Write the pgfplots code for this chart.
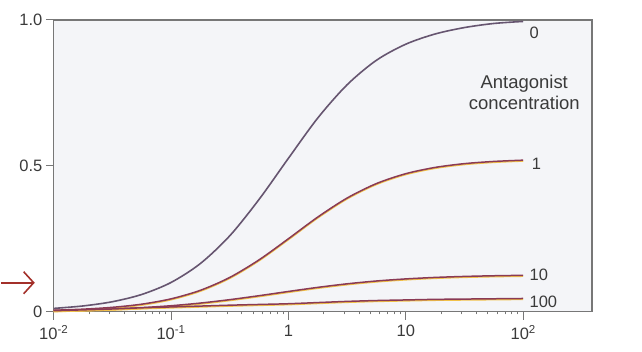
\documentclass[border=0pt]{standalone}
\usepackage{pgfplots}
\pgfplotsset{compat=1.18}
\usepackage{fontspec}
\setmainfont{Liberation Sans}
\usetikzlibrary{arrows.meta}
\definecolor{bgc}{HTML}{F4F5F8}
\definecolor{axc}{HTML}{777777}
\definecolor{txt}{HTML}{3A3A3A}
\definecolor{c0}{HTML}{665570}
\definecolor{cr}{HTML}{8A3A55}
\definecolor{cy}{HTML}{F2C24A}
\definecolor{arr}{HTML}{A3302A}
\begin{document}
\begin{tikzpicture}
\begin{axis}[
  width=539pt, height=292pt, scale only axis,
  xmode=log, xmin=0.01, xmax=386, ymin=0, ymax=1,
  axis background/.style={fill=bgc},
  axis line style={axc, line width=1.3pt},
  xtick={0.01,0.1,1,10,100},
  xticklabels={10\textsuperscript{-2},10\textsuperscript{-1},1,10,10\textsuperscript{2}},
  ytick={0,0.5,1},
  yticklabels={0,0.5,1.0},
  minor xtick={}, minor ytick={},
  xtick pos=bottom, ytick pos=left,
  tick align=outside,
  major tick length=8pt,
  tick style={axc, line width=1pt},
  tick label style={font=\fontsize{16.5}{18}\selectfont, text=txt},
  xticklabel style={yshift=-2pt},
  clip=false,
]
% curve 0
\addplot[c0, line width=1.6pt, smooth] coordinates {
(0.01,0.011) (0.01778,0.0194) (0.03162,0.0339) (0.05623,0.0588) (0.1,0.1)
(0.1778,0.165) (0.3162,0.260) (0.5623,0.385) (1,0.526) (1.778,0.664)
(3.162,0.778) (5.623,0.862) (10,0.917) (17.78,0.952) (31.62,0.974)
(56.23,0.988) (100,0.995)};
% curve 1
\addplot[cy, line width=1.7pt, smooth, yshift=-0.8pt] coordinates {
(0.01,0.0047) (0.01778,0.0084) (0.03162,0.0147) (0.05623,0.0255) (0.1,0.0438)
(0.1778,0.0731) (0.3162,0.1172) (0.5623,0.1776) (1,0.25) (1.778,0.3243)
(3.162,0.3895) (5.623,0.4391) (10,0.473) (17.78,0.4944) (31.62,0.5074)
(56.23,0.5149) (100,0.5193)};
\addplot[cr, line width=1.5pt, smooth] coordinates {
(0.01,0.0047) (0.01778,0.0084) (0.03162,0.0147) (0.05623,0.0255) (0.1,0.0438)
(0.1778,0.0731) (0.3162,0.1172) (0.5623,0.1776) (1,0.25) (1.778,0.3243)
(3.162,0.3895) (5.623,0.4391) (10,0.473) (17.78,0.4944) (31.62,0.5074)
(56.23,0.5149) (100,0.5193)};
% curve 10
\addplot[cy, line width=1.7pt, smooth, yshift=-0.8pt] coordinates {
(0.01,0.0037) (0.01778,0.0058) (0.03162,0.0089) (0.05623,0.0136) (0.1,0.0202)
(0.1778,0.0293) (0.3162,0.0410) (0.5623,0.0546) (1,0.0691) (1.778,0.0831)
(3.162,0.0953) (5.623,0.1050) (10,0.1121) (17.78,0.1172) (31.62,0.1206)
(56.23,0.1229) (100,0.1244)};
\addplot[cr, line width=1.5pt, smooth] coordinates {
(0.01,0.0037) (0.01778,0.0058) (0.03162,0.0089) (0.05623,0.0136) (0.1,0.0202)
(0.1778,0.0293) (0.3162,0.0410) (0.5623,0.0546) (1,0.0691) (1.778,0.0831)
(3.162,0.0953) (5.623,0.1050) (10,0.1121) (17.78,0.1172) (31.62,0.1206)
(56.23,0.1229) (100,0.1244)};
% curve 100
\addplot[cy, line width=1.7pt, smooth, yshift=-0.8pt] coordinates {
(0.01,0.003) (0.01778,0.006) (0.03162,0.009) (0.05623,0.013) (0.1,0.016)
(0.1778,0.019) (0.3162,0.022) (0.5623,0.0245) (1,0.027) (1.778,0.031)
(3.162,0.035) (5.623,0.038) (10,0.040) (17.78,0.042) (31.62,0.043)
(56.23,0.044) (100,0.045)};
\addplot[cr, line width=1.5pt, smooth] coordinates {
(0.01,0.003) (0.01778,0.006) (0.03162,0.009) (0.05623,0.013) (0.1,0.016)
(0.1778,0.019) (0.3162,0.022) (0.5623,0.0245) (1,0.027) (1.778,0.031)
(3.162,0.035) (5.623,0.038) (10,0.040) (17.78,0.042) (31.62,0.043)
(56.23,0.044) (100,0.045)};
% labels
\node[anchor=west, inner sep=0pt, text=txt, font=\fontsize{16.5}{18}\selectfont] at (axis cs:113,0.955) {0};
\node[anchor=west, inner sep=0pt, text=txt, font=\fontsize{16.5}{18}\selectfont] at (axis cs:118,0.505) {1};
\node[anchor=west, inner sep=0pt, text=txt, font=\fontsize{16.5}{18}\selectfont] at (axis cs:113,0.125) {10};
\node[anchor=west, inner sep=0pt, text=txt, font=\fontsize{16.5}{18}\selectfont] at (axis cs:113,0.034) {100};
\node[align=center, inner sep=0pt, text=txt, font=\fontsize{18.5}{21}\selectfont] at (axis cs:102,0.753) {Antagonist\\concentration};
\draw[arr, line width=1.6pt, -{Straight Barb[length=10pt,width=22pt]}] ([xshift=-53pt]axis cs:0.01,0.099) -- ([xshift=-19pt]axis cs:0.01,0.099);
\coordinate (bl) at (rel axis cs:0,0);
\coordinate (tr) at (rel axis cs:1,1);
\end{axis}
\path ([shift={(-53pt,-40pt)}]bl) rectangle ([shift={(50pt,20pt)}]tr);
\end{tikzpicture}
\end{document}
